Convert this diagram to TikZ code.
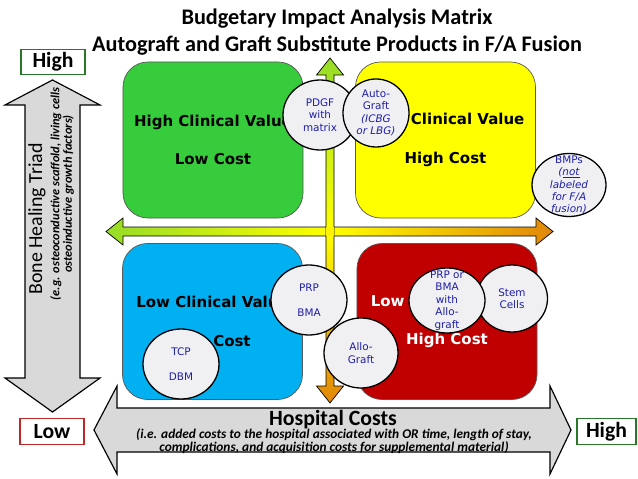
\documentclass[tikz,border=0pt]{standalone}
\usepackage{fontspec}
\setmainfont{Carlito}
\newfontfamily\dejavu{DejaVu Sans}
\usetikzlibrary{shapes.geometric}
\definecolor{quadgreen}{RGB}{54,204,59}
\definecolor{quadyellow}{RGB}{255,255,0}
\definecolor{quadblue}{RGB}{0,176,240}
\definecolor{quadred}{RGB}{192,0,0}
\definecolor{axisgreen}{RGB}{150,220,40}
\definecolor{axisorange}{RGB}{225,135,10}
\definecolor{triadgrey}{RGB}{217,217,217}
\definecolor{bubblegrey}{RGB}{240,240,243}
\definecolor{bubbleblue}{RGB}{30,30,170}
\definecolor{highgreen}{RGB}{40,120,40}
\definecolor{lowred}{RGB}{190,40,40}
\tikzset{
  quadrant/.style={draw=black!65, line width=0.6pt, rounded corners=0.75cm,
    minimum width=5.4cm, minimum height=4.68cm, align=center,
    font=\dejavu\bfseries\fontsize{12.8}{33}\selectfont},
  bubble/.style={ellipse, draw=black, line width=1.1pt, fill=bubblegrey, inner sep=0pt},
  bubbletext/.style={align=center, text=bubbleblue, inner sep=0pt,
    font=\dejavu\fontsize{8.9}{10.6}\selectfont},
  levelbox/.style={draw, line width=1pt, fill=white, minimum width=1.92cm,
    minimum height=0.78cm, inner sep=0pt, font=\bfseries\fontsize{18.5}{20}\selectfont},
  triad/.style={draw=black, line width=1pt, fill=triadgrey},
  axisarrow/.style={draw=black, line width=0.6pt}
}
\begin{document}
\begin{tikzpicture}[x=0.03cm, y=-0.03cm]
    \useasboundingbox (0,0) rectangle (638,479);
    \node[font=\bfseries\fontsize{19}{23}\selectfont, align=center] (title) at (337,32)
          {Budgetary Impact Analysis Matrix\\Autograft and Graft Substitute Products in F/A Fusion};
    \node[quadrant, fill=quadgreen] (hvlc) at (213,140) {High Clinical Value\\Low Cost};
    \node[quadrant, fill=quadyellow] (hvhc) at (445.5,140) {High Clinical Value\\High Cost};
    \node[quadrant, fill=quadblue] (lvlc) at (212.5,321.5) {Low Clinical Value\\Low Cost};
    \node[quadrant, fill=quadred, text=white] (lvhc) at (447,321.5) {Low Clinical Value\\High Cost};
    \draw[axisarrow, left color=axisgreen, right color=axisorange, middle color=yellow]
          (106,231.5) -- (123,218) -- (123,227) -- (536,227) -- (536,218) -- (553,231.5)
          -- (536,245) -- (536,236) -- (123,236) -- (123,245) -- cycle;
    \draw[axisarrow, top color=axisgreen, bottom color=axisorange, middle color=yellow]
          (330,58) -- (343.5,75) -- (334,75) -- (334,386) -- (343.5,386) -- (330,403)
          -- (316.5,386) -- (326,386) -- (326,75) -- (316.5,75) -- cycle;
    \fill[yellow] (326.4,226.6) rectangle (333.6,236.4);
    \fill[yellow] (325.6,227.4) rectangle (334.4,235.6);
    \draw[triad] (52.5,80) -- (100,105) -- (80,105) -- (80,378) -- (100,378) -- (52.5,412)
          -- (5,378) -- (25,378) -- (25,105) -- (5,105) -- cycle;
    \draw[triad] (94,430) -- (117,386) -- (117,408) -- (550,408) -- (550,386) -- (571,430)
          -- (550,474) -- (550,452) -- (117,452) -- (117,474) -- cycle;
    \node[levelbox, draw=highgreen, minimum height=0.75cm] (vhigh) at (53,62) {High};
    \node[levelbox, draw=lowred] (vlow) at (52,431.5) {Low};
    \node[levelbox, draw=highgreen, minimum width=1.77cm] (hhigh) at (606.5,431.5) {High};
    \node[rotate=90, font=\fontsize{17}{18}\selectfont] (triadlabel) at (37,219) {Bone Healing Triad};
    \node[rotate=90, align=center, font=\bfseries\itshape\fontsize{10.6}{9.6}\selectfont] (triadnote) at (62,194)
          {(e.g. osteoconductive scaffold, living cells\\osteoinductive growth factors)};
    \node[font=\bfseries\fontsize{18.6}{20}\selectfont] (costlabel) at (333,420) {Hospital Costs};
    \node[align=center, font=\bfseries\itshape\fontsize{11.4}{11.2}\selectfont] (costnote) at (334,441)
          {(i.e. added costs to the hospital associated with OR time, length of stay,\\complications, and acquisition costs for supplemental material)};
    \node[bubble, minimum width=2.22cm, minimum height=2.1cm] (pdgf) at (320,115) {};
    \node[bubbletext] at (pdgf) {PDGF\\with\\matrix};
    \node[bubble, minimum width=1.98cm, minimum height=2.04cm] (auto) at (376,113) {};
    \node[bubbletext] at (auto) {Auto-\\Graft\\\textit{(ICBG}\\\textit{or LBG)}};
    \node[bubble, minimum width=2.22cm, minimum height=1.89cm] (bmp) at (569,185) {};
    \node[bubbletext] at (bmp) {BMPs\\\textit{(\underline{not}}\\\textit{labeled}\\\textit{for F/A}\\\textit{fusion)}};
    \node[bubble, minimum width=2.28cm, minimum height=2.1cm] (prpbma) at (309,300) {};
    \node[bubbletext] at (prpbma) {PRP\\[10.6pt]BMA};
    \node[bubble, minimum width=2.22cm, minimum height=2.1cm] (allo) at (361,353) {};
    \node[bubbletext] at (allo) {Allo-\\Graft};
    \node[bubble, minimum width=2.28cm, minimum height=2.1cm] (tcp) at (181,364) {};
    \node[bubbletext] at (tcp) {TCP\\[10.6pt]DBM};
    \node[bubble, minimum width=2.13cm, minimum height=2.01cm] (stem) at (512,298.5) {};
    \node[bubbletext] at (stem) {Stem\\Cells};
    \node[bubble, minimum width=2.28cm, minimum height=1.95cm] (prpallo) at (447,300.5) {};
    \node[bubbletext] at (prpallo) {PRP or\\BMA\\with\\Allo-\\graft};
\end{tikzpicture}
\end{document}
